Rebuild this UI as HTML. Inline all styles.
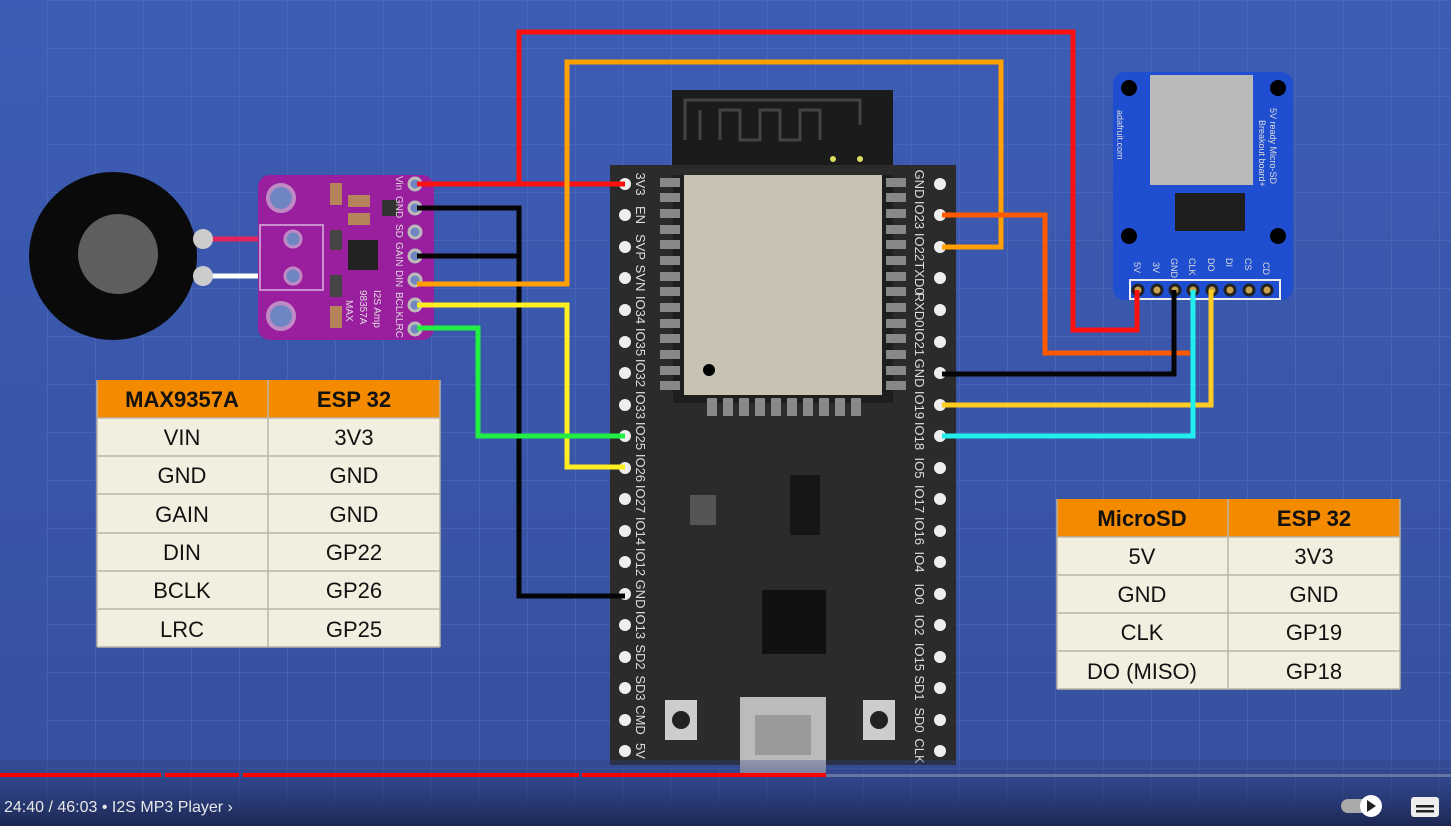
<!DOCTYPE html>
<html><head><meta charset="utf-8"><style>
html,body{margin:0;padding:0;width:1451px;height:826px;overflow:hidden;background:#3a58ad;}
svg{display:block}
</style></head><body>
<svg width="1451" height="826" viewBox="0 0 1451 826" xmlns="http://www.w3.org/2000/svg" font-family="Liberation Sans, sans-serif">
<defs>
<pattern id="g" width="48" height="48" patternUnits="userSpaceOnUse" x="47" y="0">
<path d="M0 0V48M0 0H48" stroke="#5673c2" stroke-width="2" fill="none" opacity="0.45"/>
</pattern>
<linearGradient id="bg" x1="0" y1="0" x2="0" y2="1"><stop offset="0" stop-color="#3c5cb5"/><stop offset="1" stop-color="#37509e"/></linearGradient>
<linearGradient id="bot" x1="0" y1="0" x2="0" y2="1"><stop offset="0" stop-color="#2e4384" stop-opacity="0.3"/><stop offset="1" stop-color="#1c2650"/></linearGradient>
</defs>
<rect width="1451" height="826" fill="url(#bg)"/>
<rect x="45" width="1406" height="826" fill="url(#g)"/>

<!-- speaker -->
<circle cx="113" cy="256" r="84" fill="#0a0a0a"/>
<circle cx="118" cy="254" r="40" fill="#5e5e5e"/>
<line x1="203" y1="239" x2="293" y2="239" stroke="#e2245e" stroke-width="5"/>
<line x1="203" y1="276" x2="293" y2="276" stroke="#ffffff" stroke-width="5"/>
<circle cx="203" cy="239" r="10" fill="#ccc"/>
<circle cx="203" cy="276" r="10" fill="#ccc"/>

<!-- MAX board -->
<rect x="258" y="175" width="176" height="165" rx="12" fill="#9a1f9e"/>
<circle cx="281" cy="198" r="13" fill="#6f86c2" stroke="#c08bc5" stroke-width="4"/>
<circle cx="281" cy="316" r="13" fill="#6f86c2" stroke="#c08bc5" stroke-width="4"/>
<rect x="260" y="225" width="63" height="65" fill="none" stroke="#c78fcc" stroke-width="2"/>
<circle cx="293" cy="239" r="8" fill="#6f86c2" stroke="#c08bc5" stroke-width="3"/>
<circle cx="293" cy="276" r="8" fill="#6f86c2" stroke="#c08bc5" stroke-width="3"/>
<rect x="348" y="240" width="30" height="30" fill="#222"/>
<rect x="330" y="183" width="12" height="22" fill="#b5845a"/><rect x="330" y="230" width="12" height="20" fill="#444"/>
<rect x="330" y="275" width="12" height="22" fill="#444"/><rect x="330" y="306" width="12" height="22" fill="#b5845a"/>
<rect x="348" y="195" width="22" height="12" fill="#b5845a"/><rect x="348" y="213" width="22" height="12" fill="#b5845a"/>
<rect x="382" y="200" width="16" height="16" fill="#333"/>
<g fill="#ddd" font-size="10">
<text transform="translate(346,300) rotate(90)">MAX</text>
<text transform="translate(360,290) rotate(90)">98357A</text>
<text transform="translate(374,290) rotate(90)">I2S Amp</text>
<text transform="translate(396,176) rotate(90)">Vin</text>
<text transform="translate(396,196) rotate(90)">GND</text>
<text transform="translate(396,224) rotate(90)">SD</text>
<text transform="translate(396,242) rotate(90)">GAIN</text>
<text transform="translate(396,270) rotate(90)">DIN</text>
<text transform="translate(396,292) rotate(90)">BCLK</text>
<text transform="translate(396,318) rotate(90)">LRC</text>
</g>
<g fill="#6f86c2" stroke="#bbb" stroke-width="3">
<circle cx="415" cy="184" r="6"/><circle cx="415" cy="208" r="6"/><circle cx="415" cy="232" r="6"/><circle cx="415" cy="256" r="6"/><circle cx="415" cy="280" r="6"/><circle cx="415" cy="305" r="6"/><circle cx="415" cy="329" r="6"/>
</g>

<!-- SD board -->
<rect x="1113" y="72" width="180" height="228" rx="12" fill="#1f4fd0"/>
<rect x="1150" y="75" width="103" height="110" fill="#b9b9b9"/>
<rect x="1175" y="193" width="70" height="38" fill="#1e1e1e"/>
<g fill="#000"><circle cx="1129" cy="88" r="8"/><circle cx="1278" cy="88" r="8"/><circle cx="1129" cy="236" r="8"/><circle cx="1278" cy="236" r="8"/></g>
<rect x="1130" y="280" width="150" height="19" fill="none" stroke="#eee" stroke-width="2"/>
<g fill="#c9a24b" stroke="#222" stroke-width="3">
<circle cx="1138" cy="290" r="5"/><circle cx="1157" cy="290" r="5"/><circle cx="1175" cy="290" r="5"/><circle cx="1193" cy="290" r="5"/><circle cx="1212" cy="290" r="5"/><circle cx="1230" cy="290" r="5"/><circle cx="1249" cy="290" r="5"/><circle cx="1267" cy="290" r="5"/>
</g>
<g fill="#ddd" font-size="9">
<text transform="translate(1134,262) rotate(90)">5V</text><text transform="translate(1153,262) rotate(90)">3V</text><text transform="translate(1171,258) rotate(90)">GND</text><text transform="translate(1189,258) rotate(90)">CLK</text><text transform="translate(1208,258) rotate(90)">DO</text><text transform="translate(1226,258) rotate(90)">DI</text><text transform="translate(1245,258) rotate(90)">CS</text><text transform="translate(1263,262) rotate(90)">CD</text>
<text transform="translate(1117,110) rotate(90)">adafruit.com</text>
<text transform="translate(1270,108) rotate(90)">5V ready Micro-SD</text>
<text transform="translate(1259,120) rotate(90)">Breakout board+</text>
</g>

<!-- ESP32 board -->
<rect x="672" y="90" width="221" height="92" fill="#1b1b1b"/>
<path d="M685 140 V100 H860 V125 M700 140 V110 M720 140 V110 H740 V140 H760 V110 H780 V140 H800 V110 H820 V140" stroke="#444" stroke-width="3" fill="none"/>
<circle cx="833" cy="159" r="3" fill="#dd6"/><circle cx="860" cy="159" r="3" fill="#dd6"/>
<rect x="610" y="165" width="346" height="600" fill="#2b2b2b"/>
<rect x="673" y="175" width="220" height="228" fill="#1e1e1e"/>
<rect x="684" y="175" width="198" height="220" fill="#c8c2b2"/>
<circle cx="709" cy="370" r="6" fill="#000"/>
<g fill="#888">
<rect x="660" y="178" width="20" height="9"/><rect x="660" y="193" width="20" height="9"/><rect x="660" y="209" width="20" height="9"/><rect x="660" y="225" width="20" height="9"/><rect x="660" y="240" width="20" height="9"/><rect x="660" y="256" width="20" height="9"/><rect x="660" y="272" width="20" height="9"/><rect x="660" y="287" width="20" height="9"/><rect x="660" y="303" width="20" height="9"/><rect x="660" y="319" width="20" height="9"/><rect x="660" y="334" width="20" height="9"/><rect x="660" y="350" width="20" height="9"/><rect x="660" y="366" width="20" height="9"/><rect x="660" y="381" width="20" height="9"/>
<rect x="886" y="178" width="20" height="9"/><rect x="886" y="193" width="20" height="9"/><rect x="886" y="209" width="20" height="9"/><rect x="886" y="225" width="20" height="9"/><rect x="886" y="240" width="20" height="9"/><rect x="886" y="256" width="20" height="9"/><rect x="886" y="272" width="20" height="9"/><rect x="886" y="287" width="20" height="9"/><rect x="886" y="303" width="20" height="9"/><rect x="886" y="319" width="20" height="9"/><rect x="886" y="334" width="20" height="9"/><rect x="886" y="350" width="20" height="9"/><rect x="886" y="366" width="20" height="9"/><rect x="886" y="381" width="20" height="9"/>
<rect x="707" y="398" width="10" height="18"/><rect x="723" y="398" width="10" height="18"/><rect x="739" y="398" width="10" height="18"/><rect x="755" y="398" width="10" height="18"/><rect x="771" y="398" width="10" height="18"/><rect x="787" y="398" width="10" height="18"/><rect x="803" y="398" width="10" height="18"/><rect x="819" y="398" width="10" height="18"/><rect x="835" y="398" width="10" height="18"/><rect x="851" y="398" width="10" height="18"/>
</g>
<rect x="762" y="590" width="64" height="64" fill="#111"/>
<rect x="790" y="475" width="30" height="60" fill="#161616"/>
<rect x="690" y="495" width="26" height="30" fill="#555"/>
<rect x="665" y="700" width="32" height="40" fill="#ccc"/><circle cx="681" cy="720" r="9" fill="#222"/>
<rect x="863" y="700" width="32" height="40" fill="#ccc"/><circle cx="879" cy="720" r="9" fill="#222"/>
<rect x="740" y="697" width="86" height="78" fill="#bbb"/><rect x="755" y="715" width="56" height="40" fill="#999"/>
<g fill="#eee">
<circle cx="625" cy="184" r="6"/><circle cx="625" cy="215" r="6"/><circle cx="625" cy="247" r="6"/><circle cx="625" cy="278" r="6"/><circle cx="625" cy="310" r="6"/><circle cx="625" cy="342" r="6"/><circle cx="625" cy="373" r="6"/><circle cx="625" cy="405" r="6"/><circle cx="625" cy="436" r="6"/><circle cx="625" cy="468" r="6"/><circle cx="625" cy="499" r="6"/><circle cx="625" cy="531" r="6"/><circle cx="625" cy="562" r="6"/><circle cx="625" cy="594" r="6"/><circle cx="625" cy="625" r="6"/><circle cx="625" cy="657" r="6"/><circle cx="625" cy="688" r="6"/><circle cx="625" cy="720" r="6"/><circle cx="625" cy="751" r="6"/>
<circle cx="940" cy="184" r="6"/><circle cx="940" cy="215" r="6"/><circle cx="940" cy="247" r="6"/><circle cx="940" cy="278" r="6"/><circle cx="940" cy="310" r="6"/><circle cx="940" cy="342" r="6"/><circle cx="940" cy="373" r="6"/><circle cx="940" cy="405" r="6"/><circle cx="940" cy="436" r="6"/><circle cx="940" cy="468" r="6"/><circle cx="940" cy="499" r="6"/><circle cx="940" cy="531" r="6"/><circle cx="940" cy="562" r="6"/><circle cx="940" cy="594" r="6"/><circle cx="940" cy="625" r="6"/><circle cx="940" cy="657" r="6"/><circle cx="940" cy="688" r="6"/><circle cx="940" cy="720" r="6"/><circle cx="940" cy="751" r="6"/>
</g>
<g fill="#ddd" font-size="13" text-anchor="middle">
<text transform="translate(636,184) rotate(90)">3V3</text><text transform="translate(636,215) rotate(90)">EN</text><text transform="translate(636,247) rotate(90)">SVP</text><text transform="translate(636,278) rotate(90)">SVN</text><text transform="translate(636,310) rotate(90)">IO34</text><text transform="translate(636,342) rotate(90)">IO35</text><text transform="translate(636,373) rotate(90)">IO32</text><text transform="translate(636,405) rotate(90)">IO33</text><text transform="translate(636,436) rotate(90)">IO25</text><text transform="translate(636,468) rotate(90)">IO26</text><text transform="translate(636,499) rotate(90)">IO27</text><text transform="translate(636,531) rotate(90)">IO14</text><text transform="translate(636,562) rotate(90)">IO12</text><text transform="translate(636,594) rotate(90)">GND</text><text transform="translate(636,625) rotate(90)">IO13</text><text transform="translate(636,657) rotate(90)">SD2</text><text transform="translate(636,688) rotate(90)">SD3</text><text transform="translate(636,720) rotate(90)">CMD</text><text transform="translate(636,751) rotate(90)">5V</text>
<text transform="translate(915,184) rotate(90)">GND</text><text transform="translate(915,215) rotate(90)">IO23</text><text transform="translate(915,247) rotate(90)">IO22</text><text transform="translate(915,278) rotate(90)">TXD0</text><text transform="translate(915,310) rotate(90)">RXD0</text><text transform="translate(915,342) rotate(90)">IO21</text><text transform="translate(915,373) rotate(90)">GND</text><text transform="translate(915,405) rotate(90)">IO19</text><text transform="translate(915,436) rotate(90)">IO18</text><text transform="translate(915,468) rotate(90)">IO5</text><text transform="translate(915,499) rotate(90)">IO17</text><text transform="translate(915,531) rotate(90)">IO16</text><text transform="translate(915,562) rotate(90)">IO4</text><text transform="translate(915,594) rotate(90)">IO0</text><text transform="translate(915,625) rotate(90)">IO2</text><text transform="translate(915,657) rotate(90)">IO15</text><text transform="translate(915,688) rotate(90)">SD1</text><text transform="translate(915,720) rotate(90)">SD0</text><text transform="translate(915,751) rotate(90)">CLK</text>
</g>

<!-- wires -->
<g fill="none" stroke-width="5" stroke-linejoin="miter">
<path d="M417 184H625" stroke="#ff1010"/>
<path d="M519 184V32H1073V330H1137V290" stroke="#ff1010"/>
<path d="M417 208H519V596H625" stroke="#050505"/>
<path d="M417 256H519" stroke="#050505"/>
<path d="M417 284H567V62H1001V247H942" stroke="#ffa000"/>
<path d="M417 305H567V467H625" stroke="#ffee22"/>
<path d="M417 328H478V436H625" stroke="#22ee44"/>
<path d="M942 215H1045V353H1190" stroke="#ff5a00"/>
<path d="M942 374H1174V290" stroke="#050505"/>
<path d="M942 405H1211V290" stroke="#ffcc22"/>
<path d="M942 436H1193V290" stroke="#22eeee"/>
</g>

<!-- tables -->
<g font-size="22" text-anchor="middle" fill="#111">
<rect x="97" y="380" width="343" height="38" fill="#f48a00"/>
<rect x="97" y="418" width="343" height="229" fill="#f3efe0"/>
<g stroke="#b9b5a8" stroke-width="1.5" fill="none">
<path d="M97 418H440M97 456H440M97 494H440M97 533H440M97 571H440M97 609H440M97 647H440M268 380V647M97 380V647M440 380V647"/>
</g>
<text x="182" y="407" font-weight="bold">MAX9357A</text><text x="354" y="407" font-weight="bold">ESP 32</text>
<text x="182" y="445">VIN</text><text x="354" y="445">3V3</text>
<text x="182" y="483">GND</text><text x="354" y="483">GND</text>
<text x="182" y="522">GAIN</text><text x="354" y="522">GND</text>
<text x="182" y="560">DIN</text><text x="354" y="560">GP22</text>
<text x="182" y="598">BCLK</text><text x="354" y="598">GP26</text>
<text x="182" y="637">LRC</text><text x="354" y="637">GP25</text>

<rect x="1057" y="499" width="343" height="38" fill="#f48a00"/>
<rect x="1057" y="537" width="343" height="152" fill="#f3efe0"/>
<g stroke="#b9b5a8" stroke-width="1.5" fill="none">
<path d="M1057 537H1400M1057 575H1400M1057 613H1400M1057 651H1400M1057 689H1400M1228 499V689M1057 499V689M1400 499V689"/>
</g>
<text x="1142" y="526" font-weight="bold">MicroSD</text><text x="1314" y="526" font-weight="bold">ESP 32</text>
<text x="1142" y="564">5V</text><text x="1314" y="564">3V3</text>
<text x="1142" y="602">GND</text><text x="1314" y="602">GND</text>
<text x="1142" y="640">CLK</text><text x="1314" y="640">GP19</text>
<text x="1142" y="679">DO (MISO)</text><text x="1314" y="679">GP18</text>
</g>

<!-- video controls -->
<rect x="0" y="760" width="1451" height="66" fill="url(#bot)"/>
<rect x="0" y="774" width="1451" height="3" fill="#8a93b0" opacity="0.6"/>
<rect x="0" y="773" width="826" height="4" fill="#ff0000"/>
<rect x="161" y="773" width="4" height="4" fill="#3a4f90"/><rect x="239" y="773" width="4" height="4" fill="#3a4f90"/><rect x="579" y="773" width="3" height="4" fill="#3a4f90"/>
<text x="4" y="812" font-size="16" fill="#e8e8e8">24:40 / 46:03  •  I2S MP3 Player  ›</text>
<rect x="1341" y="799" width="30" height="14" rx="7" fill="#aaa"/>
<circle cx="1371" cy="806" r="11" fill="#fff"/><path d="M1367 800L1376 806L1367 812Z" fill="#222"/>
<rect x="1411" y="797" width="28" height="20" rx="3" fill="#eee"/>
<rect x="1416" y="805" width="18" height="2.5" fill="#222"/><rect x="1416" y="810" width="18" height="2.5" fill="#222"/>
</svg>
</body></html>
